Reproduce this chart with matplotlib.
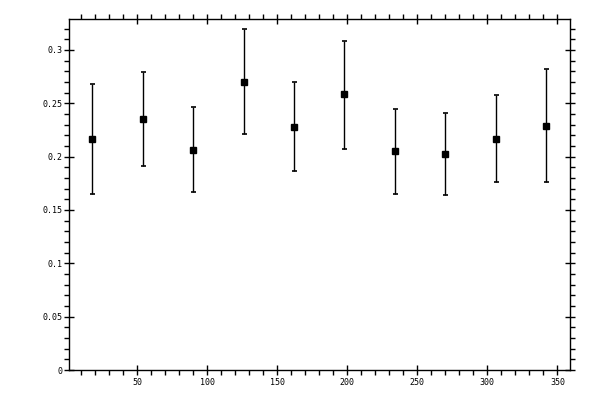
import numpy as np
import matplotlib
matplotlib.use("Agg")
import matplotlib.pyplot as plt
from matplotlib.ticker import MultipleLocator, FuncFormatter

# angles of the ten points
x = [18, 54, 90, 126, 162, 198, 234, 270, 306, 342]
# values and lower / upper ends of the error bars
y = [0.2167, 0.2355, 0.2064, 0.2702, 0.2280, 0.2583, 0.2054, 0.2026, 0.2167, 0.2289]
y_lo = [0.1651, 0.1914, 0.1670, 0.2214, 0.1867, 0.2073, 0.1651, 0.1642, 0.1764, 0.1764]
y_hi = [0.2683, 0.2792, 0.2463, 0.3199, 0.2698, 0.3083, 0.2445, 0.2411, 0.2576, 0.2824]

y = np.array(y)
err = [y - np.array(y_lo), np.array(y_hi) - y]

fig = plt.figure(figsize=(6, 4), dpi=100)
ax = fig.add_axes([0.115, 0.075, 0.835, 0.8775])

ax.errorbar(x, y, yerr=err, fmt='s', color='black', ms=4.5,
            elinewidth=1, capsize=1.8, capthick=1.2)

ax.set_xlim(1.4, 359)
ax.set_ylim(0, 0.329)

ax.xaxis.set_major_locator(MultipleLocator(50))
ax.xaxis.set_minor_locator(MultipleLocator(10))
ax.yaxis.set_major_locator(MultipleLocator(0.05))
ax.yaxis.set_minor_locator(MultipleLocator(0.01))
ax.yaxis.set_major_formatter(FuncFormatter(lambda v, p: '%g' % round(v, 4)))

for s in ax.spines.values():
    s.set_linewidth(1)

ax.tick_params(which='both', top=True, right=True, width=1, labelsize=6)
ax.tick_params(which='major', direction='inout', length=7)
ax.tick_params(which='minor', direction='out', length=3.5)
ax.tick_params(axis='x', pad=2)
ax.tick_params(axis='y', pad=1)
for lab in ax.get_xticklabels() + ax.get_yticklabels():
    lab.set_family('DejaVu Sans Mono')

fig.savefig("out.png", dpi=100)
